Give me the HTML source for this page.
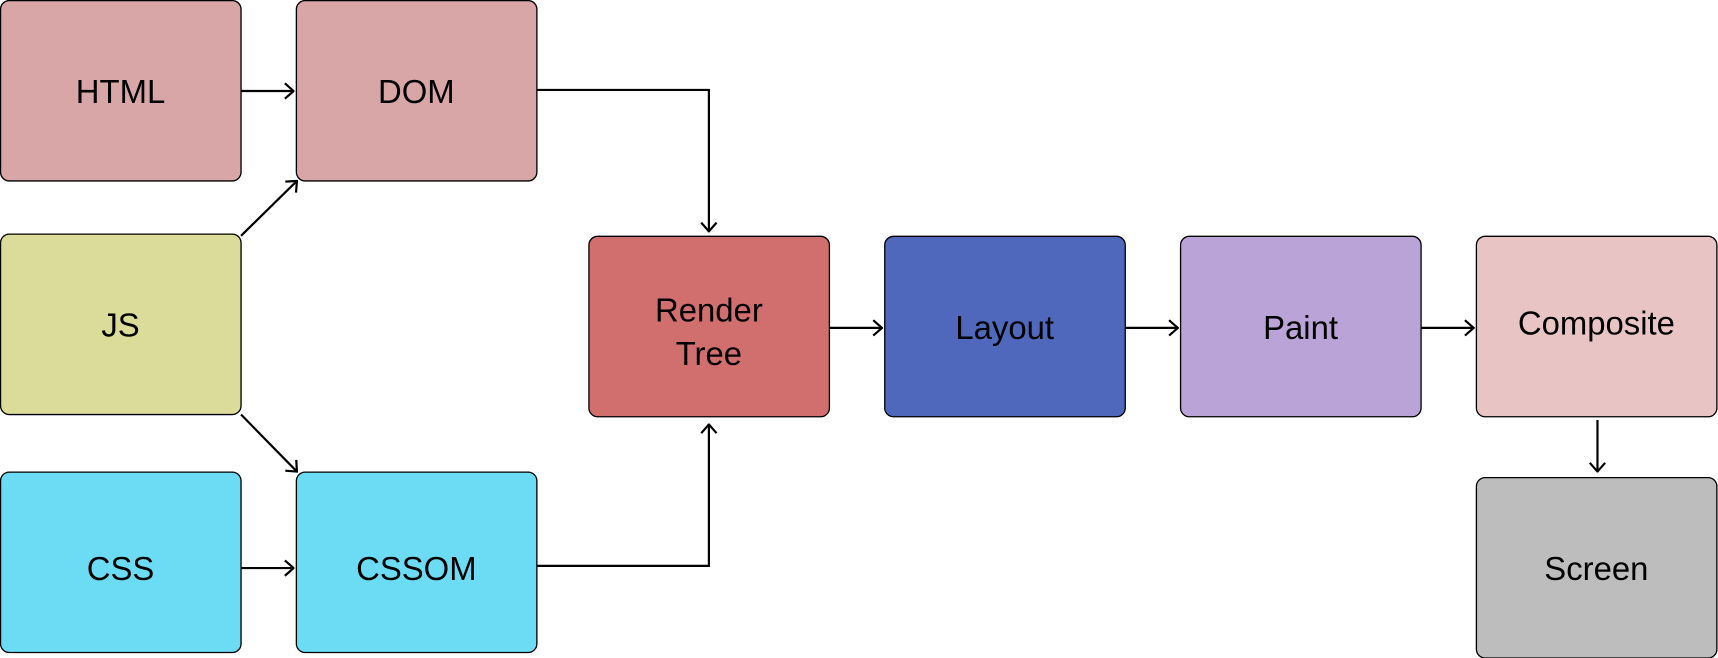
<!DOCTYPE html>
<html><head><style>html,body{margin:0;padding:0;background:#fff;}svg{display:block}</style></head>
<body>
<svg width="1718" height="658" viewBox="0 0 1568 600" preserveAspectRatio="none" xmlns="http://www.w3.org/2000/svg">
<defs>
<marker id="a" viewBox="0 0 16 16" refX="15" refY="8" markerWidth="16" markerHeight="16" markerUnits="userSpaceOnUse" orient="auto">
<path d="M7,1 L15,8 L7,15" fill="none" stroke="#000" stroke-width="2"/>
</marker>
</defs>
<g stroke="#000" stroke-width="1.2">
<rect x="0.5" y="0.5" width="219.5" height="164.5" rx="8" fill="#d8a6a7"/>
<rect x="270.5" y="0.5" width="219.5" height="164.5" rx="8" fill="#d8a6a7"/>
<rect x="0.5" y="213.5" width="219.5" height="164.5" rx="8" fill="#dcdc9a"/>
<rect x="0.5" y="430.5" width="219.5" height="164.5" rx="8" fill="#6cdcf5"/>
<rect x="270.5" y="430.5" width="219.5" height="164.5" rx="8" fill="#6cdcf5"/>
<rect x="537.5" y="215.5" width="219.5" height="164.5" rx="8" fill="#d16f6f"/>
<rect x="807.5" y="215.5" width="219.5" height="164.5" rx="8" fill="#4f68bb"/>
<rect x="1077.5" y="215.5" width="219.5" height="164.5" rx="8" fill="#baa3d6"/>
<rect x="1347.5" y="215.5" width="219.5" height="164.5" rx="8" fill="#e8c4c4"/>
<rect x="1347.5" y="435.5" width="219.5" height="164.5" rx="8" fill="#bdbdbd"/>
</g>
<g stroke="#000" stroke-width="2" fill="none" marker-end="url(#a)">
<path d="M220,83 L268,83"/>
<path d="M490,82 L647,82 L647,211"/>
<path d="M490,516 L647,516 L647,387"/>
<path d="M220,215 L271,165"/>
<path d="M220,378 L271,430"/>
<path d="M220,518 L268,518"/>
<path d="M757,299 L805,299"/>
<path d="M1027,299 L1075,299"/>
<path d="M1297,299 L1345,299"/>
<path d="M1458,383 L1458,430"/>
</g>
<g font-family="Liberation Sans, sans-serif" font-size="30" text-anchor="middle" fill="#000">
<text x="110" y="94">HTML</text>
<text x="380" y="94">DOM</text>
<text x="110" y="307">JS</text>
<text x="110" y="529">CSS</text>
<text x="380" y="529">CSSOM</text>
<text x="647" y="293">Render</text>
<text x="647" y="333">Tree</text>
<text x="917" y="309">Layout</text>
<text x="1187" y="309">Paint</text>
<text x="1457" y="305">Composite</text>
<text x="1457" y="529">Screen</text>
</g>
</svg>
</body></html>
